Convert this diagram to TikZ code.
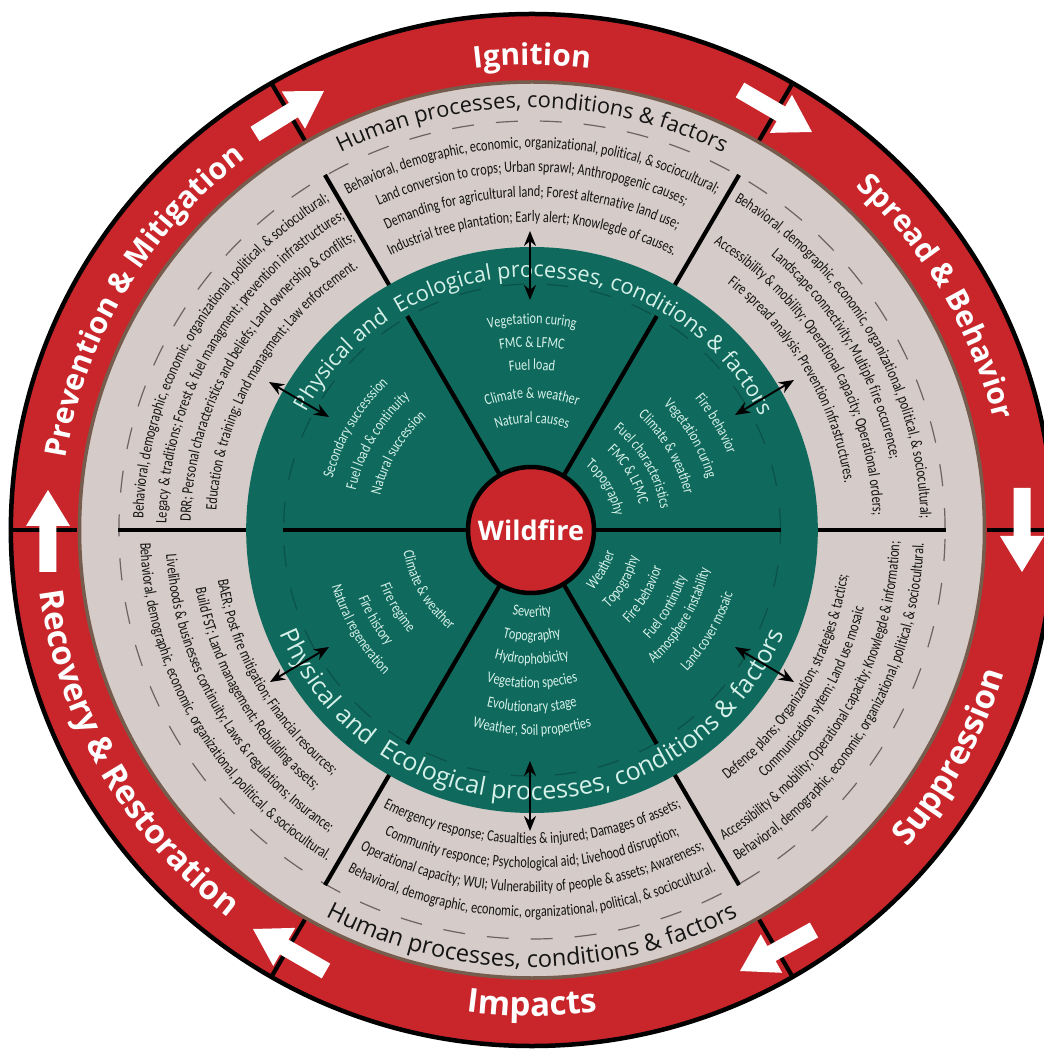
\documentclass[tikz,border=0pt]{standalone}
\usepackage{fontspec}
\usetikzlibrary{decorations.text,calc,arrows.meta}
\newfontfamily\tfam{Open Sans}
\newfontfamily\nfam[FakeStretch=0.765]{Carlito}
\newfontfamily\gfam[FakeStretch=0.78]{Carlito}
\definecolor{fire}{HTML}{C8262B}
\definecolor{sand}{HTML}{D5CBC8}
\definecolor{forest}{HTML}{0F695C}
\definecolor{bark}{HTML}{755C4C}
\definecolor{mint}{HTML}{D6F1E9}
\definecolor{ink}{HTML}{141414}
\definecolor{dashsand}{HTML}{6E6263}
\definecolor{dashgreen}{HTML}{0B5249}
\def\fRing{\tfam\bfseries\fontsize{30}{32}\selectfont\color{white}}
\def\fRingB{\tfam\bfseries\fontsize{33}{34}\selectfont\color{white}}
\def\fHumT{\tfam\fontsize{21.8}{23}\selectfont\color{ink}}
\def\fHumB{\tfam\fontsize{23.6}{25}\selectfont\color{ink}}
\def\fPhyT{\tfam\fontsize{21.8}{24}\selectfont\color{mint}}
\def\fPhyB{\tfam\fontsize{25}{26}\selectfont\color{mint}}
\def\fSand{\nfam\fontsize{16}{17}\selectfont\color{ink}}
\def\fGreen{\gfam\fontsize{15.6}{17}\selectfont\color{mint}}
% radius, centre angle, format, text
\newcommand\cwt[4]{\path[decorate,decoration={text along path,text align=center,text={|#3|#4}}] ({#2+80}:#1) arc[start angle=#2+80,end angle=#2-80,radius=#1];}
\newcommand\ccwt[4]{\path[decorate,decoration={text along path,text align=center,text={|#3|#4}}] ({#2-80}:#1) arc[start angle=#2-80,end angle=#2+80,radius=#1];}
% tail x,y ; tip x,y (image pixels)
\newcommand\flowarrow[4]{%
  \coordinate (A) at (#1-532,530-#2);
  \coordinate (B) at (#3-532,530-#4);
  \coordinate (H) at ($(B)!36pt!(A)$);
  \fill[white] ($(A)!8.5pt!90:(B)$) -- ($(H)!8.5pt!-90:(A)$) -- ($(H)!22pt!-90:(A)$) -- (B) -- ($(H)!22pt!90:(A)$) -- ($(H)!8.5pt!90:(A)$) -- ($(A)!8.5pt!-90:(B)$) -- cycle;}
\newcommand\linkarrow[4]{%
  \coordinate (P) at (#1-532,530-#2);
  \coordinate (Q) at (#3-532,530-#4);
  \draw[linkline] (P) -- (Q);}
\tikzset{
  spoke/.style={black,line width=4.2pt},
  linkline/.style={black,line width=1.9pt,{Stealth[length=15pt,width=12pt]}-{Stealth[length=15pt,width=12pt]}},
}
\begin{document}
\begin{tikzpicture}[x=1.01pt,y=1pt]
\useasboundingbox (-532pt,-521pt) rectangle (511pt,530pt);
\fill[white] (-532pt,-521pt) rectangle (511pt,530pt);
% discs
\filldraw[fill=fire,draw=black,line width=4.5pt] (0,0) circle[radius=516];
\filldraw[fill=sand,draw=bark,line width=3.5pt] (0,0) circle[radius=448];
\fill[forest] (0,0) circle[radius=283];
\draw[dashsand,line width=1.2pt,dash pattern=on 22pt off 22pt] (0,0) circle[radius=409];
\draw[dashgreen,line width=1.2pt,dash pattern=on 22pt off 22pt] (0,0) circle[radius=246];
% spokes
\foreach \a in {0,60,120,180,240,300}{
  \draw[spoke] (\a:450) -- (\a:516);
  \draw[spoke] (\a:283) -- (\a:410);
  \draw[spoke] (\a:60) -- (\a:247);
}
% centre
\node[circle,fill=fire,draw=black,line width=4.5pt,minimum size=126pt,inner sep=0pt,text=white,font=\tfam\bfseries\fontsize{27}{29}\selectfont] (wf) at (-1,0) {Wildfire};
% ring titles
\cwt{465}{90}{\fRing}{Ignition}
\cwt{467}{149.5}{\fRing}{Prevention {\&} Mitigation}
\cwt{470}{30}{\fRing}{Spread {\&} Behavior}
\ccwt{489}{-28.5}{\fRingB}{Suppression}
\ccwt{486}{270}{\fRingB}{Impacts}
\ccwt{491}{209.5}{\fRingB}{Recovery {\&} Restoration}
% human titles
\cwt{422}{90}{\fHumT}{Human processes, conditions {\&} factors}
\ccwt{437}{270}{\fHumB}{Human processes, conditions {\&} factors}
% physical titles
\cwt{253}{89.5}{\fPhyT}{Physical and {~}Ecological processes, conditions {\&} factors}
\ccwt{270}{270}{\fPhyB}{Physical and {~}Ecological processes, conditions {\&} factors}
% sand: top
\cwt{382}{90}{\fSand}{Behavioral, demographic, economic, organizational, political, {\&} sociocultural;}
\cwt{358}{90}{\fSand}{Land conversion to crops; Urban sprawl; Anthropogenic causes;}
\cwt{333}{90}{\fSand}{Demanding for agricultural land; Forest alternative land use;}
\cwt{308}{90}{\fSand}{Industrial tree plantation; Early alert; Knowlegde of causes.}
% sand: top right
\cwt{385}{30}{\fSand}{Behavioral, demographic, economic, organizational, political, {\&} sociocultural;}
\cwt{362}{30}{\fSand}{Landscape connectivity; Multiple fire occurence;}
\cwt{338}{30}{\fSand}{Accessibility {\&} mobility; Operational capacity; Operational orders;}
\cwt{313}{30}{\fSand}{Fire spread analysis; Prevention infrastructures.}
% sand: top left
\cwt{385}{150}{\fSand}{Behavioral, demographic, economic, organizational, political, {\&} sociocultural;}
\cwt{362}{150}{\fSand}{Legacy {\&} traditions; Forest {\&} fuel managment; prevention infrastructures;}
\cwt{338}{150}{\fSand}{DRR; Personal characteristics and beliefs; Land ownership {\&} conflits;}
\cwt{313}{150}{\fSand}{Education {\&} training; Land managment; Law enforcement.}
% sand: bottom left
\ccwt{388}{210}{\fSand}{Behavioral, demographic, economic, organizational, political, {\&} sociocultural.}
\ccwt{363}{210}{\fSand}{Livelihoods {\&} businesses continuity; Laws {\&} regulations; Insurance;}
\ccwt{338}{210}{\fSand}{Build FST; Land management; Rebuilding assets;}
\ccwt{315}{210}{\fSand}{BAER; Post fire mitigation; Financial resources;}
% sand: bottom
\ccwt{387}{270}{\fSand}{Behavioral, demographic, economic, organizational, political, {\&} sociocultural.}
\ccwt{362}{270}{\fSand}{Operational capacity; WUI; Vulnerability of people {\&} assets; Awareness;}
\ccwt{338}{270}{\fSand}{Community responce; Psychological aid; Livehood disruption;}
\ccwt{314}{270}{\fSand}{Emergency response; Casualties {\&} injured; Damages of assets;}
% sand: bottom right
\ccwt{388}{-30}{\fSand}{Behavioral, demographic, economic, organizational, political, {\&} sociocultural.}
\ccwt{364}{-30}{\fSand}{Accessibility {\&} mobility; Operational capacity; Knowlegde {\&} information;}
\ccwt{338}{-30}{\fSand}{Communication sytem; Land use mosaic}
\ccwt{316}{-30}{\fSand}{Defence plans; Organization; strategies {\&} tactics;}
% green: top
\cwt{206}{90}{\fGreen}{Vegetation curing}
\cwt{183}{90}{\fGreen}{FMC {\&} LFMC}
\cwt{160}{90}{\fGreen}{Fuel load}
\cwt{132}{90}{\fGreen}{Climate {\&} weather}
\cwt{107}{90}{\fGreen}{Natural causes}
% green: top right
\cwt{208}{30}{\fGreen}{Fire behavior}
\cwt{181}{30}{\fGreen}{Vegetation curing}
\cwt{155}{30}{\fGreen}{Climate {\&} weather}
\cwt{129}{30}{\fGreen}{Fuel characteristics}
\cwt{109}{30}{\fGreen}{FMC {\&} LFMC}
\cwt{83}{30}{\fGreen}{Topography}
% green: top left
\cwt{204}{150}{\fGreen}{Secondary successsion}
\cwt{179}{150}{\fGreen}{Fuel load {\&} continuity}
\cwt{154}{150}{\fGreen}{Natural succession}
% green: bottom right
\ccwt{85}{-30}{\fGreen}{Weather}
\ccwt{109}{-30}{\fGreen}{Topography}
\ccwt{134}{-30}{\fGreen}{Fire behavior}
\ccwt{160}{-30}{\fGreen}{Fuel continuity}
\ccwt{180}{-30}{\fGreen}{Atmosphere instability}
\ccwt{209}{-30}{\fGreen}{Land cover mosaic}
% green: bottom
\ccwt{87}{270}{\fGreen}{Severity}
\ccwt{111}{270}{\fGreen}{Topography}
\ccwt{134}{270}{\fGreen}{Hydrophobicity}
\ccwt{158}{270}{\fGreen}{Vegetation species}
\ccwt{182}{270}{\fGreen}{Evolutionary stage}
\ccwt{205}{270}{\fGreen}{Weather, Soil properties}
% green: bottom left
\ccwt{129}{210}{\fGreen}{Climate {\&} weather}
\ccwt{160}{210}{\fGreen}{Fire regime}
\ccwt{185}{210}{\fGreen}{Fire history}
\ccwt{206}{210}{\fGreen}{Natural regeneration}
% arrows in pixel coordinates
\begin{scope}[x=1pt,y=1pt]
\flowarrow{255}{134}{324}{91}
\flowarrow{740}{90}{812}{132}
\flowarrow{1022}{488}{1022}{572}
\flowarrow{814}{930}{740}{971}
\flowarrow{326}{971}{253}{929}
\flowarrow{48}{572}{48}{490}
\linkarrow{530}{231}{530}{300}
\linkarrow{530}{761}{530}{831}
\linkarrow{269}{382}{329}{417}
\linkarrow{794}{380}{735}{415}
\linkarrow{735}{647}{794}{682}
\linkarrow{270}{682}{329}{647}
\end{scope}
\end{tikzpicture}
\end{document}
